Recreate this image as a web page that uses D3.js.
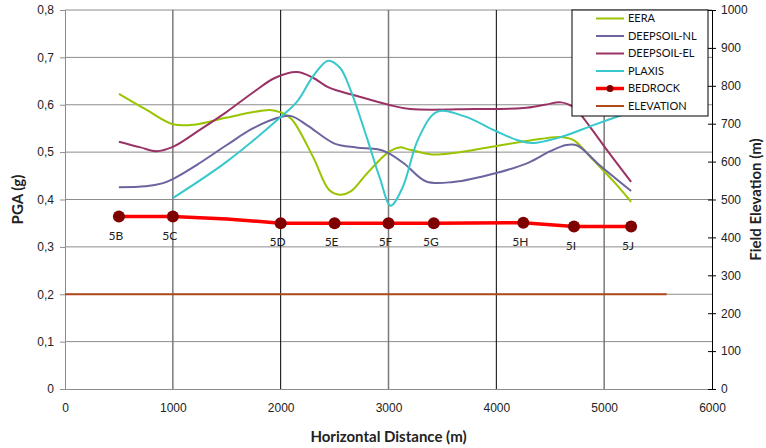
<!doctype html>
<html lang="en">
<head>
<meta charset="utf-8">
<title>PGA along profile</title>
<script src="https://cdn.jsdelivr.net/npm/d3@7"></script>
<style>
  body { margin: 0; background: #fff; }
  svg { font-family: Lato, "Liberation Sans", sans-serif; }
  .grid line { stroke: #8c8c8c; stroke-width: 1; }
  .tick text { font-size: 12px; fill: #222; }
  .title { font-size: 15px; font-weight: bold; fill: #222; }
  .station { font-size: 12px; fill: #222; }
  .legend text { font-size: 11px; fill: #111; }
</style>
</head>
<body>
<svg width="766" height="448"></svg>
<script>
// x in metres, PGA in g
var eera = [[500,0.623],[750,0.59],[1000,0.559],[1200,0.558],[1500,0.573],[1900,0.589],[2000,0.584],[2100,0.57],
  [2300,0.49],[2450,0.42],[2550,0.41],[2650,0.417],[2800,0.455],[3000,0.5],[3100,0.51],[3200,0.505],[3400,0.495],
  [3600,0.498],[4000,0.513],[4300,0.524],[4600,0.532],[4720,0.525],[4900,0.483],[5100,0.435],[5250,0.395]];
var deepsoilNL = [[500,0.426],[750,0.428],[900,0.434],[1000,0.443],[1250,0.477],[1500,0.515],[1750,0.551],[2000,0.574],
  [2100,0.576],[2250,0.556],[2500,0.518],[2700,0.51],[2900,0.506],[3000,0.498],[3150,0.475],[3350,0.438],[3600,0.437],
  [4000,0.456],[4300,0.478],[4500,0.502],[4650,0.515],[4750,0.514],[4950,0.474],[5250,0.418]];
var deepsoilEL = [[500,0.522],[700,0.51],[850,0.502],[1000,0.511],[1250,0.547],[1500,0.585],[1750,0.627],[1950,0.657],
  [2150,0.669],[2300,0.657],[2450,0.636],[2700,0.619],[3000,0.6],[3200,0.591],[3800,0.591],[4250,0.593],[4450,0.6],
  [4600,0.605],[4720,0.594],[4870,0.553],[5030,0.503],[5250,0.437]];
var plaxis = [[1000,0.403],[1500,0.48],[2000,0.574],[2150,0.606],[2300,0.66],[2440,0.693],[2550,0.678],[2650,0.63],
  [2800,0.53],[2920,0.445],[3020,0.387],[3130,0.425],[3280,0.53],[3450,0.585],[3700,0.576],[4000,0.544],
  [4200,0.525],[4330,0.519],[4600,0.532],[4900,0.557],[5250,0.585]];
var bedrock = [[500,0.364],[1000,0.364],[1500,0.359],[2000,0.35],[2500,0.35],[3000,0.35],[3420,0.35],[4250,0.351],[4720,0.343],[5250,0.343]];
var stations = ["5B","5C","5D","5E","5F","5G","5H","5I","5J"];
var stationX = [500,1000,2000,2500,3000,3420,4250,4720,5250];
// elevation in metres (right axis)
var elevation = [[0,250],[5580,250]];

var xTicks = [0,1000,2000,3000,4000,5000,6000];
var pgaTicks = [0,0.1,0.2,0.3,0.4,0.5,0.6,0.7,0.8];
var elevTicks = [0,100,200,300,400,500,600,700,800,900,1000];

var series = [
  { name: "EERA", data: eera, color: "#99c400" },
  { name: "DEEPSOIL-NL", data: deepsoilNL, color: "#6a659f" },
  { name: "DEEPSOIL-EL", data: deepsoilEL, color: "#993366" },
  { name: "PLAXIS", data: plaxis, color: "#36c8cc" }
];

var svg = d3.select("svg");
var mLeft = 65, mRight = 712, mTop = 10, mBottom = 389;

var x = d3.scaleLinear().domain([0, 6000]).range([mLeft, mRight]);
var y = d3.scaleLinear().domain([0, 0.8]).range([mBottom, mTop]);
var y2 = d3.scaleLinear().domain([0, 1000]).range([mBottom, mTop]);
var comma = function(d) { return String(d).replace(".", ","); };

// grid
var grid = svg.append("g").attr("class", "grid");
grid.selectAll(".h").data(pgaTicks.slice(1)).enter().append("line")
  .attr("x1", mLeft).attr("x2", mRight)
  .attr("y1", function(d) { return y(d); }).attr("y2", function(d) { return y(d); });
grid.selectAll(".v").data(xTicks.slice(1, -1)).enter().append("line")
  .attr("y1", mTop).attr("y2", mBottom)
  .attr("x1", function(d) { return x(d); }).attr("x2", function(d) { return x(d); })
  .style("stroke", function(d) { return d % 2000 === 0 ? "#000" : "#7a7a7a"; })
  .style("stroke-width", function(d) { return d % 2000 === 0 ? 1 : 1.5; });

// axes
var yAxis = svg.append("g").attr("transform", "translate(" + mLeft + ",0)")
  .call(d3.axisLeft(y).tickValues(pgaTicks).tickFormat(comma).tickSize(5).tickPadding(6));
yAxis.select(".domain").attr("stroke", "#8c8c8c");
yAxis.selectAll(".tick line").attr("stroke", "#8c8c8c");

var xAxis = svg.append("g").attr("transform", "translate(0," + mBottom + ")")
  .call(d3.axisBottom(x).tickValues(xTicks).tickFormat(d3.format("d")).tickSize(0).tickPadding(14));
xAxis.select(".domain").attr("stroke", "#8c8c8c");

var rAxis = svg.append("g").attr("transform", "translate(" + mRight + ",0)")
  .call(d3.axisRight(y2).tickValues(elevTicks).tickFormat(d3.format("d")).tickSize(4).tickPadding(5));
rAxis.select(".domain").attr("stroke", "#000");
rAxis.selectAll(".tick line").attr("stroke", "#000").attr("x1", -4);

svg.append("text").attr("class", "title").attr("text-anchor", "middle")
  .attr("transform", "translate(23," + ((mTop + mBottom) / 2) + ") rotate(-90)").text("PGA (g)");
svg.append("text").attr("class", "title").attr("text-anchor", "middle")
  .attr("x", (mLeft + mRight) / 2).attr("y", 442).text("Horizontal Distance (m)");
svg.append("text").attr("class", "title").attr("text-anchor", "middle")
  .attr("transform", "translate(761," + ((mTop + mBottom) / 2) + ") rotate(-90)").text("Field Elevation (m)");

// lines
var line = d3.line().x(function(d) { return x(d[0]); }).y(function(d) { return y(d[1]); })
  .curve(d3.curveCatmullRom.alpha(0.5));

svg.append("path").datum(elevation)
  .attr("fill", "none").attr("stroke", "#b1491b").attr("stroke-width", 2)
  .attr("d", d3.line().x(function(d) { return x(d[0]); }).y(function(d) { return y2(d[1]); }));

series.forEach(function(s) {
  svg.append("path").datum(s.data)
    .attr("fill", "none").attr("stroke", s.color).attr("stroke-width", 2)
    .attr("d", line);
});

svg.append("path").datum(bedrock)
  .attr("fill", "none").attr("stroke", "#ff0000").attr("stroke-width", 3.5)
  .attr("d", d3.line().x(function(d) { return x(d[0]); }).y(function(d) { return y(d[1]); }));

var bedAt = function(xv) {
  return bedrock.filter(function(p) { return p[0] === xv; })[0][1];
};
svg.selectAll(".dot").data(stationX).enter().append("circle")
  .attr("cx", function(d) { return x(d); }).attr("cy", function(d) { return y(bedAt(d)); })
  .attr("r", 6).attr("fill", "#7f0000");
svg.selectAll(".station").data(stationX).enter().append("text")
  .attr("class", "station").attr("text-anchor", "middle")
  .attr("x", function(d) { return x(d) - 3; })
  .attr("y", function(d) { return y(bedAt(d)) + 23; })
  .text(function(d, i) { return stations[i]; });

// legend
var lg = svg.append("g").attr("class", "legend").attr("transform", "translate(572,10)");
lg.append("rect").attr("width", 136).attr("height", 106).attr("fill", "#fff").attr("stroke", "#000");
var legendItems = series.map(function(s) { return { name: s.name, color: s.color, w: 2 }; })
  .concat([{ name: "BEDROCK", color: "#ff0000", w: 3.5, dot: true }, { name: "ELEVATION", color: "#b1491b", w: 2 }]);
var li = lg.selectAll(".item").data(legendItems).enter().append("g")
  .attr("transform", function(d, i) { return "translate(0," + (8.5 + i * 17.5) + ")"; });
li.append("line").attr("x1", 24).attr("x2", 52)
  .attr("stroke", function(d) { return d.color; }).attr("stroke-width", function(d) { return d.w; });
li.filter(function(d) { return d.dot; }).append("circle").attr("cx", 38).attr("r", 3.5).attr("fill", "#7f0000");
li.append("text").attr("x", 56).attr("dy", "0.35em").text(function(d) { return d.name; });
</script>
</body>
</html>
